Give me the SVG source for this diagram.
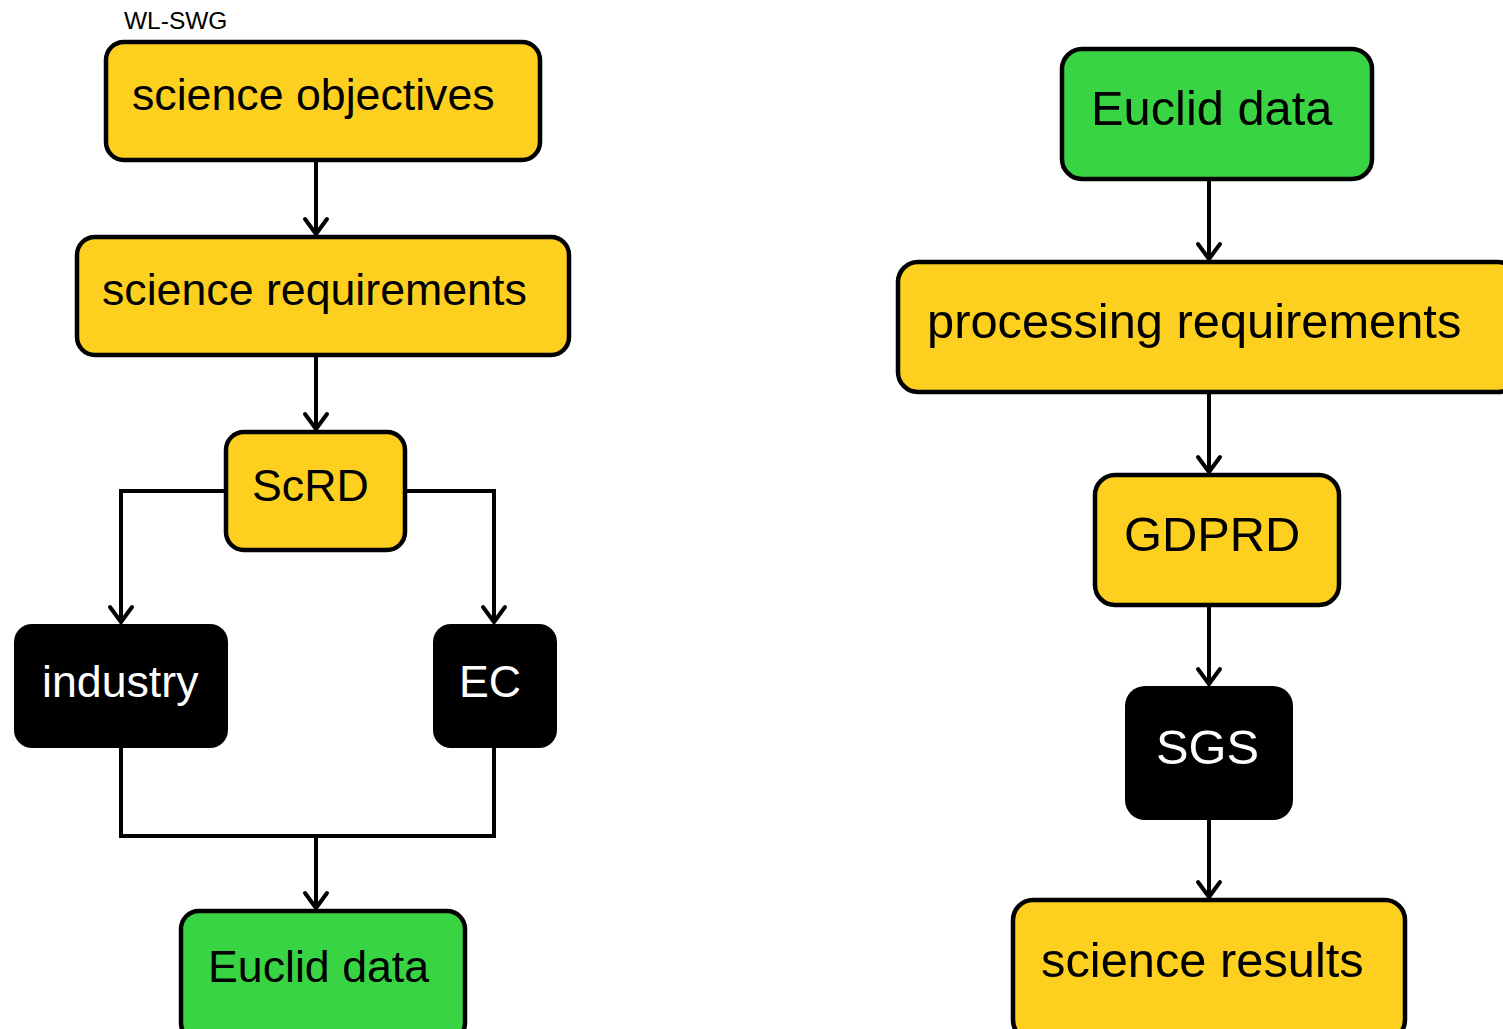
<svg xmlns="http://www.w3.org/2000/svg" width="1503" height="1029" viewBox="0 0 1503 1029">
<style>
.box{stroke:#000;stroke-width:4.5}
.y{fill:#FDCF1F}
.g{fill:#39D443}
.k{fill:#000}
.t{font-family:"Liberation Sans",Arial,sans-serif;fill:#000}
.w{fill:#fff}
.c{fill:none;stroke:#000;stroke-width:4}
</style>
<defs>
<marker id="v" markerUnits="userSpaceOnUse" markerWidth="22" markerHeight="30" refX="18" refY="14" orient="auto" viewBox="0 0 22 28">
<path d="M3,3 L18,14 L3,25" fill="none" stroke="#000" stroke-width="4" stroke-linecap="round" stroke-linejoin="miter"/>
</marker>
</defs>
<rect width="1503" height="1029" fill="#fff"/>
<text class="t" x="124" y="29" font-size="24.5">WL-SWG</text>
<g id="connectors">
<path class="c" d="M316,161 V234" marker-end="url(#v)"/>
<path class="c" d="M316,356 V429" marker-end="url(#v)"/>
<path class="c" d="M225,491 H121 V622" marker-end="url(#v)"/>
<path class="c" d="M406,491 H494 V622" marker-end="url(#v)"/>
<path class="c" d="M121,748 V836 H494 V748"/>
<path class="c" d="M316,836 V908" marker-end="url(#v)"/>
<path class="c" d="M1209,180 V259" marker-end="url(#v)"/>
<path class="c" d="M1209,393 V472" marker-end="url(#v)"/>
<path class="c" d="M1209,606 V684" marker-end="url(#v)"/>
<path class="c" d="M1209,820 V897" marker-end="url(#v)"/>
</g>
<g id="science-objectives">
<rect class="box y" x="106" y="42" width="434" height="118" rx="18"/>
<text class="t" x="132" y="110" font-size="44.7">science objectives</text>
</g>
<g id="science-requirements">
<rect class="box y" x="77" y="237" width="492" height="118" rx="18"/>
<text class="t" x="102" y="305" font-size="44.7">science requirements</text>
</g>
<g id="ScRD">
<rect class="box y" x="226" y="432" width="179" height="118" rx="18"/>
<text class="t" x="252" y="501" font-size="44.7">ScRD</text>
</g>
<g id="industry">
<rect class="k" x="14" y="624" width="214" height="124" rx="18"/>
<text class="t w" x="42" y="697" font-size="44.7">industry</text>
</g>
<g id="EC">
<rect class="k" x="433" y="624" width="124" height="124" rx="18"/>
<text class="t w" x="459" y="697" font-size="44.7">EC</text>
</g>
<g id="euclid-data-left">
<rect class="box g" x="181" y="911" width="284" height="130" rx="18"/>
<text class="t" x="208" y="982" font-size="44.7">Euclid data</text>
</g>
<g id="euclid-data-right">
<rect class="box g" x="1062" y="49" width="310" height="130" rx="20"/>
<text class="t" x="1091" y="125" font-size="48.8">Euclid data</text>
</g>
<g id="processing-requirements">
<rect class="box y" x="898" y="262" width="620" height="130" rx="20"/>
<text class="t" x="927" y="338" font-size="48.8">processing requirements</text>
</g>
<g id="GDPRD">
<rect class="box y" x="1095" y="475" width="244" height="130" rx="20"/>
<text class="t" x="1124" y="551" font-size="48.8">GDPRD</text>
</g>
<g id="SGS">
<rect class="k" x="1125" y="686" width="168" height="134" rx="20"/>
<text class="t w" x="1156" y="764" font-size="48.8">SGS</text>
</g>
<g id="science-results">
<rect class="box y" x="1013" y="900" width="392" height="140" rx="20"/>
<text class="t" x="1041" y="977" font-size="48.8">science results</text>
</g>
</svg>
